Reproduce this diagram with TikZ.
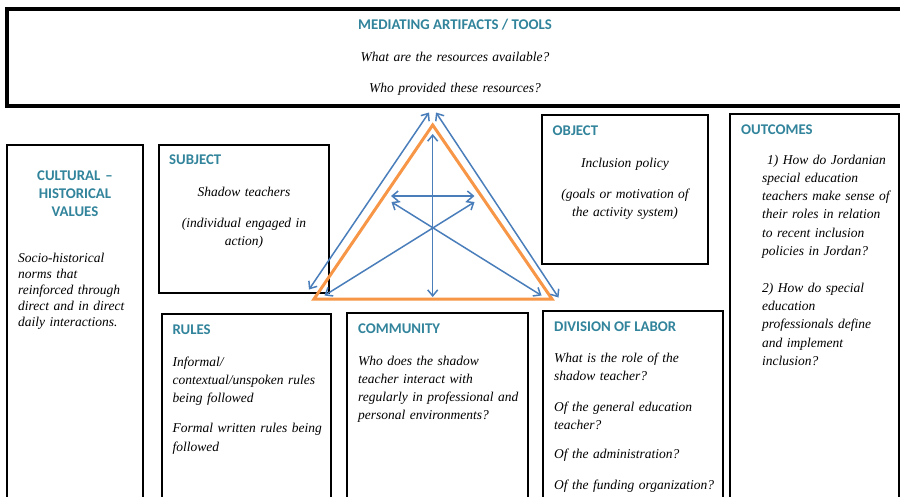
\documentclass[tikz,border=0pt]{standalone}
\usepackage{fontspec}
\setmainfont{Liberation Serif}
\newfontfamily\hdfont{Carlito}
\usetikzlibrary{arrows.meta}
\definecolor{hdteal}{HTML}{31849B}
\definecolor{arrblue}{HTML}{4A7EBB}
\definecolor{triorange}{HTML}{F79646}
\tikzset{
  boxline/.style={draw=black, line width=2.9pt},
  topline/.style={draw=black, line width=3.1pt},
  hdr/.style={font=\hdfont\bfseries\fontsize{14.8}{18}\selectfont, text=hdteal, inner sep=0pt},
  lbody/.style={font=\itshape\fontsize{13.5}{18.3}\selectfont, inner sep=0pt, align=left, text width=#1, anchor=base west},
  lbody/.default=200pt,
  cbody/.style={font=\itshape\fontsize{13.5}{18.3}\selectfont, inner sep=0pt, align=center, text width=#1, anchor=base},
  cbody/.default=200pt,
  biarrow/.style={draw=arrblue, line width=1.5pt, >={Straight Barb[length=6pt,width=10pt]}, <->},
  tri/.style={draw=triorange, line width=3pt, line join=miter}
}
\begin{document}
\begin{tikzpicture}[x=1pt,y=-1pt]
\clip (0,0) rectangle (900,496);
\fill[white] (0,0) rectangle (900,496);
% boxes
\draw[topline] (7,9) rectangle (910,106);
\draw[boxline] (7,145) rectangle (143,520);
\draw[boxline] (159,145) rectangle (329,293);
\draw[boxline] (542,115) rectangle (708,264);
\draw[boxline] (730,114) rectangle (899,520);
\draw[boxline] (162,314) rectangle (331,520);
\draw[boxline] (347,313) rectangle (528,520);
\draw[boxline] (543,311) rectangle (723,520);
% mediating artifacts
\node[hdr, anchor=base] (mtitle) at (455,29) {MEDIATING ARTIFACTS / TOOLS};
\node[cbody=400pt] (mq1) at (455,61) {What are the resources available?};
\node[cbody=400pt] (mq2) at (455,92) {Who provided these resources?};
% cultural
\node[hdr, anchor=base, align=center, text width=130pt] (culthead) at (75,180) {CULTURAL –\\HISTORICAL\\VALUES};
\node[lbody=130pt, font=\itshape\fontsize{13.5}{16}\selectfont] (cultbody) at (18,262) {Socio-historical\\norms that\\reinforced through\\direct and in direct\\daily interactions.};
% subject
\node[hdr, anchor=base west] (subjhead) at (169,164) {SUBJECT};
\node[cbody=165pt] (subjb1) at (244,196) {Shadow teachers};
\node[cbody=165pt] (subjb2) at (244,227) {(individual engaged in\\action)};
% object
\node[hdr, anchor=base west] (objhead) at (552.5,135) {OBJECT};
\node[cbody=165pt] (objb1) at (625,167) {Inclusion policy};
\node[cbody=165pt] (objb2) at (625,198) {(goals or motivation of\\the activity system)};
% outcomes
\node[hdr, anchor=base west] (outhead) at (741,134) {OUTCOMES};
\node[lbody=150pt] (outbody) at (762,164) {\hspace*{5pt}1) How do Jordanian\\special education\\teachers make sense of\\their roles in relation\\to recent inclusion\\policies in Jordan?\\[18.3pt]2) How do special\\education\\professionals define\\and implement\\inclusion?};
% rules
\node[hdr, anchor=base west] (rulehead) at (172.5,334) {RULES};
\node[lbody=160pt] (rulebody) at (172.5,366) {Informal/\\contextual/unspoken rules\\being followed\\[12pt]Formal written rules being\\followed};
% community
\node[hdr, anchor=base west] (commhead) at (358,333) {COMMUNITY};
\node[lbody=175pt] (commbody) at (358,365) {Who does the shadow\\teacher interact with\\regularly in professional and\\personal environments?};
% division of labor
\node[hdr, anchor=base west] (divhead) at (554,331) {DIVISION OF LABOR};
\node[lbody=175pt] (divbody) at (554,362.5) {What is the role of the\\shadow teacher?\\[12pt]Of the general education\\teacher?\\[11pt]Of the administration?\\[12pt]Of the funding organization?};
% triangle
\coordinate (tA) at (432.7,125);
\coordinate (tL) at (314,299);
\coordinate (tR) at (552,299);
\draw[tri] (tA) -- (tL) -- (tR) -- cycle;
% arrow endpoints
\coordinate (loT) at (429,112.5);
\coordinate (loB) at (309,289.5);
\coordinate (roT) at (436,112.5);
\coordinate (roB) at (558.5,297.5);
\coordinate (vT) at (432.7,134);
\coordinate (vB) at (432.7,297);
\coordinate (hL) at (391,196);
\coordinate (hR) at (474.5,196);
\coordinate (d1T) at (391.5,202);
\coordinate (d1B) at (541.5,295.5);
\coordinate (d2T) at (474.5,202);
\coordinate (d2B) at (324.5,295.5);
\draw[biarrow] (loT) -- (loB);
\draw[biarrow] (roT) -- (roB);
\draw[biarrow] (vT) -- (vB);
\draw[biarrow] (hL) -- (hR);
\draw[biarrow] (d1T) -- (d1B);
\draw[biarrow] (d2T) -- (d2B);
\end{tikzpicture}
\end{document}
